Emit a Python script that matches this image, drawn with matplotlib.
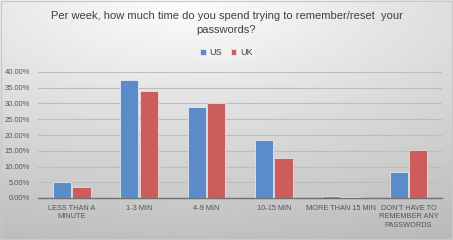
import matplotlib
matplotlib.use("Agg")
import matplotlib.pyplot as plt
import matplotlib.ticker as mtick
from matplotlib import font_manager
import numpy as np

categories = ["LESS THAN A\nMINUTE", "1-3 MIN", "4-9 MIN", "10-15 MIN",
              "MORE THAN 15 MIN", "DON'T HAVE TO\nREMEMBER ANY\nPASSWORDS"]
us = [5.1, 37.5, 29.0, 18.5, 0.5, 8.3]
uk = [3.5, 34.0, 30.3, 12.7, 0.2, 15.2]

plt.rcParams["font.family"] = ["Liberation Sans", "DejaVu Sans"]

names = {f.name for f in font_manager.fontManager.ttflist}
if "Liberation Sans Narrow" in names:
    cat_font, cat_size = "Liberation Sans Narrow", 6.2
else:
    cat_font, cat_size = "Liberation Sans", 5.3

fig = plt.figure(figsize=(4.53, 2.4), dpi=100)

# gradient background over the whole figure
bg = fig.add_axes([0, 0, 1, 1], zorder=0)
yy, xx = np.mgrid[0:1:200j, 0:1:400j]
dist = np.sqrt((xx - 0.4) ** 2 + ((yy - 0.0) * 1.2) ** 2)
bg.imshow(0.99 - 0.2 * dist, cmap="gray", vmin=0, vmax=1, aspect="auto",
          extent=[0, 1, 0, 1], origin="upper")
bg.set_xlim(0, 1)
bg.set_ylim(0, 1)
bg.axis("off")
bg.add_patch(plt.Rectangle((0.002, 0.004), 0.996, 0.992, fill=False,
                           ec="#c8c8c8", lw=0.8))

ax = fig.add_axes([0.084, 0.175, 0.892, 0.525], zorder=1)
ax.patch.set_alpha(0)

x = np.arange(len(categories))
w = 0.27
ax.bar(x - w / 2 - 0.01, us, w, color="#5B8BC9", ec="#eef2f8", lw=0.5,
       label="US", zorder=3)
ax.bar(x + w / 2 + 0.01, uk, w, color="#CB5D5D", ec="#f6eaea", lw=0.5,
       label="UK", zorder=3)

ax.set_xlim(-0.5, len(categories) - 0.5)
ax.set_ylim(0, 40)
ax.set_yticks(np.arange(0, 41, 5))
ax.yaxis.set_major_formatter(mtick.FuncFormatter(lambda v, p: f"{v:.2f}%"))
ax.grid(axis="y", color="#bdbdbd", lw=0.8, zorder=0)
ax.set_xticks(x)
ax.set_xticklabels(categories, fontsize=cat_size, family=cat_font,
                   color="#555555", linespacing=1.3)
ax.tick_params(axis="y", labelsize=5.4, labelcolor="#555555", length=0, pad=6)
ax.tick_params(axis="x", length=0, pad=5)
for s in ["top", "right", "left"]:
    ax.spines[s].set_visible(False)
ax.spines["bottom"].set_color("#707070")
ax.spines["bottom"].set_linewidth(1.0)

fig.text(0.5, 0.905, "Per week, how much time do you spend trying to remember/reset  your\npasswords?",
         ha="center", va="center", fontsize=8.0, color="#404040", linespacing=1.45)

leg = fig.legend(loc="center", bbox_to_anchor=(0.5, 0.782), ncol=2, frameon=True,
                 fontsize=6.5, handlelength=0.6, handleheight=0.6,
                 handletextpad=0.4, columnspacing=1.0, borderpad=0.4)
leg.get_frame().set_facecolor("#f4f4f4")
leg.get_frame().set_edgecolor("none")
leg.get_frame().set_alpha(0.6)
for t in leg.get_texts():
    t.set_color("#404040")

fig.savefig("out.png", dpi=100)
